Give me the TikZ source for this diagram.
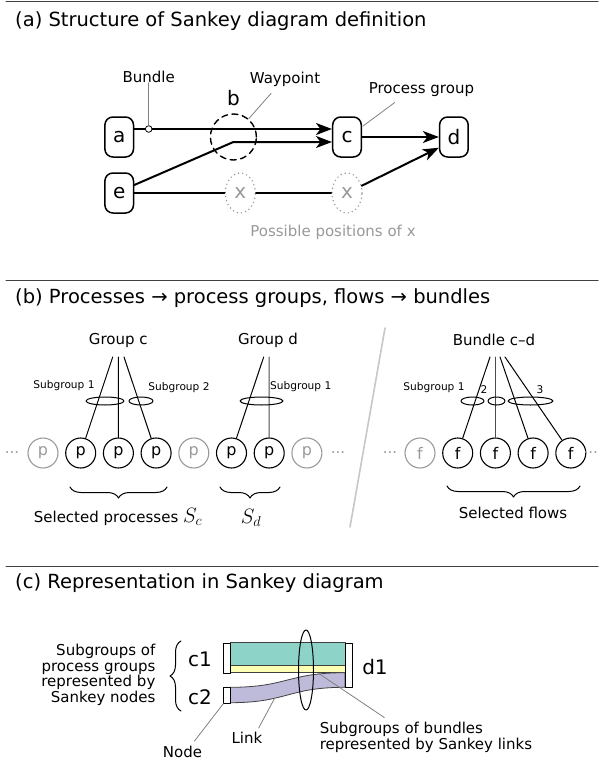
\documentclass[tikz,border=0pt]{standalone}
\usepackage{fontspec}
\setmainfont{DejaVu Sans}
\usetikzlibrary{arrows.meta,decorations.pathreplacing,calc,shapes.geometric}
\definecolor{ghost}{HTML}{999999}
\definecolor{pointgray}{HTML}{808080}
\definecolor{bandteal}{HTML}{8DD3C7}
\definecolor{bandyellow}{HTML}{FFFFB3}
\definecolor{bandpurple}{HTML}{BEBADA}
\begin{document}
\begin{tikzpicture}[line cap=round,line join=round,x=1pt,y=-1pt,
        >={Stealth[length=16pt,width=12pt,inset=4.5pt]},
        heading/.style={anchor=west,inner sep=0pt,font=\fontsize{19.5}{22}\selectfont},
        lbl/.style={inner sep=0pt,font=\fontsize{15}{16}\selectfont},
        sublbl/.style={inner sep=0pt,font=\fontsize{10.6}{12}\selectfont},
        letter/.style={inner sep=0pt,font=\fontsize{20}{22}\selectfont},
        sepline/.style={line width=1pt,black!75},
        procgroup/.style={draw,rounded corners=8pt,line width=1.5pt,minimum width=28.6pt,minimum height=40pt,inner sep=0pt,font=\fontsize{20}{22}\selectfont},
        bundleline/.style={line width=2pt},
        bundledot/.style={circle,draw,fill=white,line width=0.8pt,minimum size=6.6pt,inner sep=0pt},
        waypoint/.style={circle,draw,line width=1.4pt,dash pattern=on 6pt off 4.5pt,minimum size=46pt,inner sep=0pt},
        ghostpoint/.style={ellipse,draw=ghost,text=ghost,line width=1.6pt,dash pattern=on 0pt off 4.2pt,minimum width=30pt,minimum height=40pt,inner sep=0pt,font=\fontsize{20}{22}\selectfont},
        pointer/.style={pointgray,line width=0.8pt},
        proc/.style={circle,draw,line width=1.1pt,minimum size=30pt,inner sep=0pt,font=\fontsize{16}{18}\selectfont},
        ghostproc/.style={proc,draw=ghost,text=ghost},
        member/.style={line width=1pt},
        subset/.style={line width=1pt},
        curly/.style={decorate,decoration={brace,amplitude=11pt},line width=1pt},
        elide/.style={inner sep=0pt,text=ghost,font=\fontsize{15}{16}\selectfont},
        divider/.style={black!22,line width=1.6pt},
        snode/.style={draw,fill=white,line width=1pt,minimum width=6.8pt,inner sep=0pt,anchor=north west},
        linkband/.style={draw=black!75,line width=0.8pt}]
    \useasboundingbox (0,0) rectangle (598,760);
    \draw [sepline] (6,1.5) -- (598,1.5);
    \draw [sepline] (6,280) -- (598,280);
    \draw [sepline] (6,566) -- (598,566);
    \node [heading] (titlea) at (15,21) {(a) Structure of Sankey diagram definition};
    \node [heading] (titleb) at (15,298) {(b) Processes → process groups, flows → bundles};
    \node [heading] (titlec) at (15,583) {(c) Representation in Sankey diagram};

    \node [procgroup] (a) at (119.2,137) {a};
    \node [procgroup] (c) at (347,137) {c};
    \node [procgroup] (d) at (453.9,137) {d};
    \node [procgroup] (e) at (119.2,193) {e};
    \node [waypoint] (b) at (233.4,137) {};
    \node [letter] (blbl) at (233.4,98) {b};
    \node [ghostpoint] (x1) at (240.3,193) {x};
    \node [ghostpoint] (x2) at (347,193) {x};
    \draw [bundleline,->] ($(a.east)+(0,-8)$) -- ($(c.west)+(0,-8)$);
    \draw [bundleline,->] ($(e.east)+(0,-8)$) -- ($(b.center)+(0,5)$) -- ($(c.west)+(0,5)$);
    \draw [bundleline,->] (c) -- (d);
    \draw [bundleline] (e) -- (x1) -- (x2);
    \draw [bundleline,->] (x2) -- ($(d.south west)+(0,-10)$);
    \node [bundledot] (bdot) at (148.7,129) {};
    \node [lbl] (bundlelbl) at (148.7,76.7) {Bundle};
    \draw [pointer] (bundlelbl.south) -- (bdot.north);
    \node [lbl] (waylbl) at (285,79) {Waypoint};
    \draw [pointer] ($(waylbl.south)+(-14,7)$) -- (b.50);
    \node [lbl] (pglbl) at (421.4,89.3) {Process group};
    \draw [pointer] ($(pglbl.south)+(-26.7,6)$) -- ($(c.east)+(1,-11)$);
    \node [lbl,text=ghost] (posx) at (333,232.3) {Possible positions of x};

    \node [lbl] (gc) at (118.3,340) {Group c};
    \node [lbl] (gd) at (268,340) {Group d};
    \node [lbl] (bcd) at (494,340) {Bundle c–d};
    \foreach \i/\kind in {0/ghostproc,1/proc,2/proc,3/proc,4/ghostproc,5/proc,6/proc,7/ghostproc}
        \node [\kind] (p\i) at (43+37.7*\i,453) {p};
    \foreach \i/\kind in {0/ghostproc,1/proc,2/proc,3/proc,4/proc}
        \node [\kind] (f\i) at (420+37.7*\i,453) {f};
    \node [elide] (dots1) at (12,453) {...};
    \node [elide] (dots2) at (338,453) {...};
    \node [elide] (dots3) at (390,453) {...};
    \node [elide,anchor=east] (dots4) at (598,453) {...};
    \coordinate (gcfoot) at (118.3,357);
    \coordinate (gdfoot) at (269.2,357);
    \coordinate (bcdfoot) at (495.4,357);
    \draw [member] ($(gcfoot)+(-5.6,0)$) -- (p1);
    \draw [member] (gcfoot) -- (p2);
    \draw [member] ($(gcfoot)+(5.7,0)$) -- (p3);
    \draw [member] ($(gdfoot)+(-5.5,0)$) -- (p5);
    \draw [member,black!70] (gdfoot) -- (p6);
    \draw [member] ($(bcdfoot)+(-5.4,0)$) -- (f1);
    \draw [member,black!70] (bcdfoot) -- (f2);
    \draw [member] ($(bcdfoot)+(4.6,0)$) -- (f3);
    \draw [member] ($(bcdfoot)+(9.6,0)$) -- (f4);
    \draw [subset] (105,401) ellipse (19 and 4);
    \draw [subset] (141,401) ellipse (12 and 4);
    \draw [subset] (261.5,401) ellipse (21.5 and 4);
    \draw [subset] (472.5,401) ellipse (11.5 and 4);
    \draw [subset] (496.5,401) ellipse (8.5 and 4);
    \draw [subset] (530.5,401) ellipse (22.5 and 4);
    \node [sublbl] (sg1c) at (64,386) {Subgroup 1};
    \node [sublbl] (sg2c) at (179,388) {Subgroup 2};
    \node [sublbl,anchor=west] (sg1d) at (270,387) {Subgroup 1};
    \node [sublbl] (sg1b) at (434,388) {Subgroup 1};
    \node [sublbl] (sg2b) at (484,390) {2};
    \node [sublbl] (sg3b) at (540,390) {3};
    \draw [curly] (167,487) -- (70,487);
    \draw [curly] (280,487) -- (220,487);
    \draw [curly] (580,486) -- (447,486);
    \node [lbl] (selproc) at (118,517) {Selected processes {\fontsize{20}{20}\selectfont$S_c$}};
    \node [lbl] (seld) at (251,518) {\fontsize{20}{20}\selectfont$S_d$};
    \node [lbl] (selflow) at (513,513) {Selected flows};
    \draw [divider] (385,328) -- (350,527);

    \draw [linkband,fill=bandteal] (230,642.7) rectangle (345,665);
    \draw [linkband,fill=bandyellow] (230,665) rectangle (345,672.7);
    \draw [linkband,fill=bandpurple] (230,687.3) .. controls (287.5,687.3) and (287.5,672.7) .. (345,672.7)
        -- (345,687.3) .. controls (287.5,687.3) and (287.5,702.7) .. (230,702.7) -- cycle;
    \node [snode,minimum height=30pt] (c1n) at (223.3,642.7) {};
    \node [snode,minimum height=15.4pt] (c2n) at (223.3,687.3) {};
    \node [snode,minimum height=44.6pt] (d1n) at (345,642.7) {};
    \draw [line width=1pt] (306,670) ellipse (7.5 and 40);
    \node [letter] (c1lbl) at (200,659) {c1};
    \node [letter] (c2lbl) at (200,697) {c2};
    \node [letter] (d1lbl) at (375,667) {d1};
    \node [lbl,align=right,anchor=east,font=\fontsize{15}{15.5}\selectfont] (nodeexpl) at (155.6,675) {Subgroups of\\process groups\\represented by\\Sankey nodes};
    \draw [curly] (181,711) -- (181,641);
    \node [lbl] (nodelbl) at (182.5,752) {Node};
    \draw [pointer] ($(nodelbl.north)+(12,-5)$) -- (c2n.south west);
    \node [lbl] (linklbl) at (247,738) {Link};
    \coordinate (linkpt) at (274.6,698.3);
    \draw [pointer] ($(linklbl.north)+(11.6,-4)$) -- (linkpt);
    \node [lbl,align=left,anchor=west] (linkexpl) at (319.6,737) {Subgroups of bundles\\represented by Sankey links};
    \coordinate (bandpt) at (318.5,673.3);
    \draw [pointer] ($(linkexpl.north west)+(64.8,-4)$) -- (bandpt);
\end{tikzpicture}
\end{document}
